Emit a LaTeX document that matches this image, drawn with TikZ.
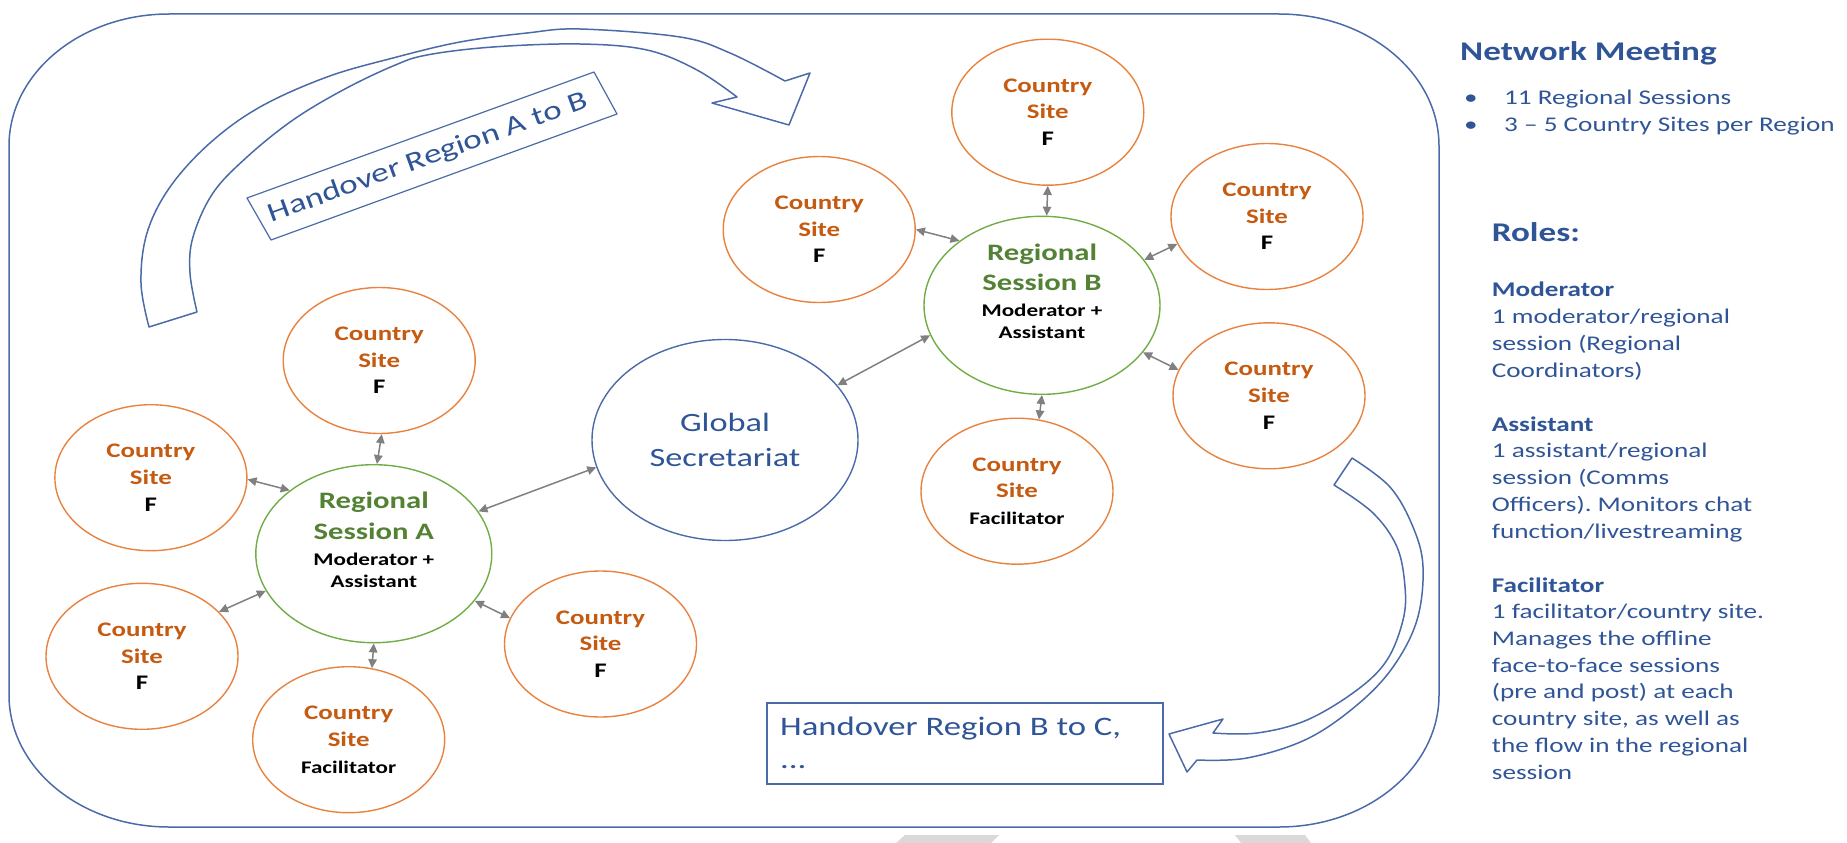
\documentclass[tikz,border=0pt]{standalone}
\usepackage{fontspec}
\setmainfont{Carlito}[FakeStretch=1.3]
\usetikzlibrary{arrows.meta,shapes.geometric}
\definecolor{navy}{HTML}{2F5597}
\definecolor{lineblue}{HTML}{4A6BA8}
\definecolor{orline}{HTML}{E8823F}
\definecolor{ortext}{HTML}{C55A11}
\definecolor{grline}{HTML}{70AD47}
\definecolor{grtext}{HTML}{548235}
\definecolor{arrgray}{HTML}{808080}
\definecolor{wmgray}{HTML}{D9D9D9}
\tikzset{
  site/.style={ellipse, draw=orline, line width=1.4pt, minimum width=192pt, minimum height=146pt,
    inner sep=0pt, align=center, text=ortext, font=\fontsize{20.7}{26.7}\selectfont\bfseries},
  hub/.style={ellipse, draw=grline, line width=1.4pt, minimum width=236pt, minimum height=178pt, inner sep=0pt},
  hubtext/.style={align=center, inner sep=0pt, text=grtext, font=\fontsize{23.6}{30.5}\selectfont\bfseries},
  globalnode/.style={ellipse, draw=lineblue, line width=1.4pt, minimum width=266pt, minimum height=201pt,
    inner sep=0pt, align=center, text=navy, font=\fontsize{26.4}{35}\selectfont},
  biarr/.style={draw=arrgray, line width=1.5pt, {Triangle[length=9pt,width=8.5pt]}-{Triangle[length=9pt,width=8.5pt]}},
  blueline/.style={draw=lineblue, line width=1.5pt, line join=round},
  rtext/.style={anchor=base west, align=left, inner sep=0pt, text=navy, font=\fontsize{20.9}{26.7}\selectfont}
}
\newcommand{\subline}[1]{{\fontsize{17.8}{22.4}\selectfont\color{black}#1}}
\newcommand{\fline}{{\color{black}F}}
\newcommand{\facline}{{\fontsize{17.7}{22}\selectfont\color{black}Facilitator}}
\begin{document}
\frenchspacing
\begin{tikzpicture}[x=1pt,y=-1pt]
\useasboundingbox (0,0) rectangle (1847,843);
% watermark fragments
\fill[wmgray] (896,843) -- (905,835) -- (999,835) -- (991,843) -- cycle;
\fill[wmgray] (1241,843) -- (1235,835) -- (1305,835) -- (1311,843) -- cycle;
% main frame
\draw[blueline] (169,14) -- (1279,14) .. controls (1367.4,14) and (1439,73.1) .. (1439,146)
  -- (1439,695) .. controls (1439,767.9) and (1367.4,827) .. (1279,827)
  -- (169,827) .. controls (80.6,827) and (9,767.9) .. (9,695)
  -- (9,146) .. controls (9,73.1) and (80.6,14) .. (169,14) -- cycle;
% handover A to B arrow
\draw[blueline] plot[smooth,tension=0.6] coordinates {(149,327) (141,283) (147,233) (170,187) (210,143) (260,107) (327,77) (393,58) (460,42) (527,33) (580,29) (680,37) (730,53) (785,81)}
  -- (810,73) -- (789,125) -- (712,103)
  -- plot[smooth,tension=0.6] coordinates {(737,97) (697,70) (647,50) (580,44) (493,47) (427,55) (393,66) (343,90) (293,120) (247,157) (213,193) (193,237) (190,273) (197,312)}
  -- cycle;
\draw[blueline, line width=1.2pt] (247,198) -- (594,72) -- (617,114) -- (271,240) -- cycle;
\node[rotate=20, inner sep=0pt, text=navy, font=\fontsize{27}{32}\selectfont] (hABtext) at (428,158) {Handover Region A to B};
% handover B to C arrow
\draw[blueline] plot[smooth,tension=0.6] coordinates {(1352,458) (1390,487) (1413,527) (1423,567) (1417,620) (1393,667) (1357,705) (1307,739) (1247,758) (1197,760)}
  -- (1187,772) -- (1169,734) -- (1223,719)
  -- plot[smooth,tension=0.6] coordinates {(1213,733) (1257,733) (1307,720) (1357,690) (1387,660) (1403,620) (1405,587) (1397,547) (1373,513) (1334,485)}
  -- cycle;
\node[draw=lineblue, line width=1.2pt, minimum width=396pt, minimum height=81pt, inner sep=0pt] (hBC) at (965,743.5) {};
\node[anchor=base west, align=left, inner sep=0pt, text=navy, font=\fontsize{26.7}{33}\selectfont] (hBCtext) at (780,768) {Handover Region B to C,\\...};
% nodes
\node[hub] (A) at (373.8,553.7) {};
\node[hubtext] (Atext) at ([yshift=14pt]A.center) {Regional\\Session A\\[-4.5pt]\subline{Moderator +}\\[-8.4pt]\subline{Assistant}};
\node[hub] (B) at (1042,305.3) {};
\node[hubtext] (Btext) at ([yshift=14pt]B.center) {Regional\\Session B\\[-4.5pt]\subline{Moderator +}\\[-8.4pt]\subline{Assistant}};
\node[globalnode] (G) at (725,440) {Global\\Secretariat};
\node[site] (A1) at (379.2,360.5) {Country\\Site\\\fline};
\node[site] (A2) at (150.9,477.7) {Country\\Site\\\fline};
\node[site] (A3) at (142,656.3) {Country\\Site\\\fline};
\node[site] (A4) at (348.7,739.7) {Country\\Site\\\facline};
\node[site] (A5) at (600.5,644) {Country\\Site\\\fline};
\node[site] (B1) at (1047.8,112.2) {Country\\Site\\\fline};
\node[site] (B2) at (819.2,229.5) {Country\\Site\\\fline};
\node[site] (B3) at (1267,216.5) {Country\\Site\\\fline};
\node[site] (B4) at (1269,395.8) {Country\\Site\\\fline};
\node[site] (B5) at (1017,491.2) {Country\\Site\\\facline};
% connectors
\draw[biarr] (A1.-88) -- (A.88);
\draw[biarr] (A2.-1) -- (A.143);
\draw[biarr] (A3.30) -- (A.199.6);
\draw[biarr] (A4.72.7) -- (A.-90);
\draw[biarr] (A5.164.4) -- (A.-25.6);
\draw[biarr] (G.192.8) -- (A.22.7);
\draw[biarr] (G.26.9) -- (B.195.4);
\draw[biarr] (B1.-90) -- (B.87);
\draw[biarr] (B2.0) -- (B.142.8);
\draw[biarr] (B3.197.4) -- (B.24.5);
\draw[biarr] (B4.164) -- (B.-25.8);
\draw[biarr] (B5.73.7) -- (B.-90);
% right column (base = baseline of last line)
\node[rtext, font=\fontsize{27}{32}\selectfont\bfseries] (nm) at (1460,60) {Network Meeting};
\node[rtext] (bul) at (1464,131) {\makebox[40pt][l]{•}11 Regional Sessions\\\makebox[40pt][l]{•}3 – 5 Country Sites per Region};
\node[rtext, font=\fontsize{27}{32}\selectfont\bfseries] (roles) at (1491.7,241) {Roles:};
\node[rtext] (mod) at (1491.7,377) {\textbf{Moderator}\\1 moderator/regional\\session (Regional\\Coordinators)};
\node[rtext] (ass) at (1491.7,538) {\textbf{Assistant}\\1 assistant/regional\\session (Comms\\Officers). Monitors chat\\function/livestreaming};
\node[rtext] (fac) at (1491.7,779) {\textbf{Facilitator}\\1 facilitator/country site.\\Manages the offline\\face-to-face sessions\\(pre and post) at each\\country site, as well as\\the flow in the regional\\session};
\end{tikzpicture}
\end{document}
